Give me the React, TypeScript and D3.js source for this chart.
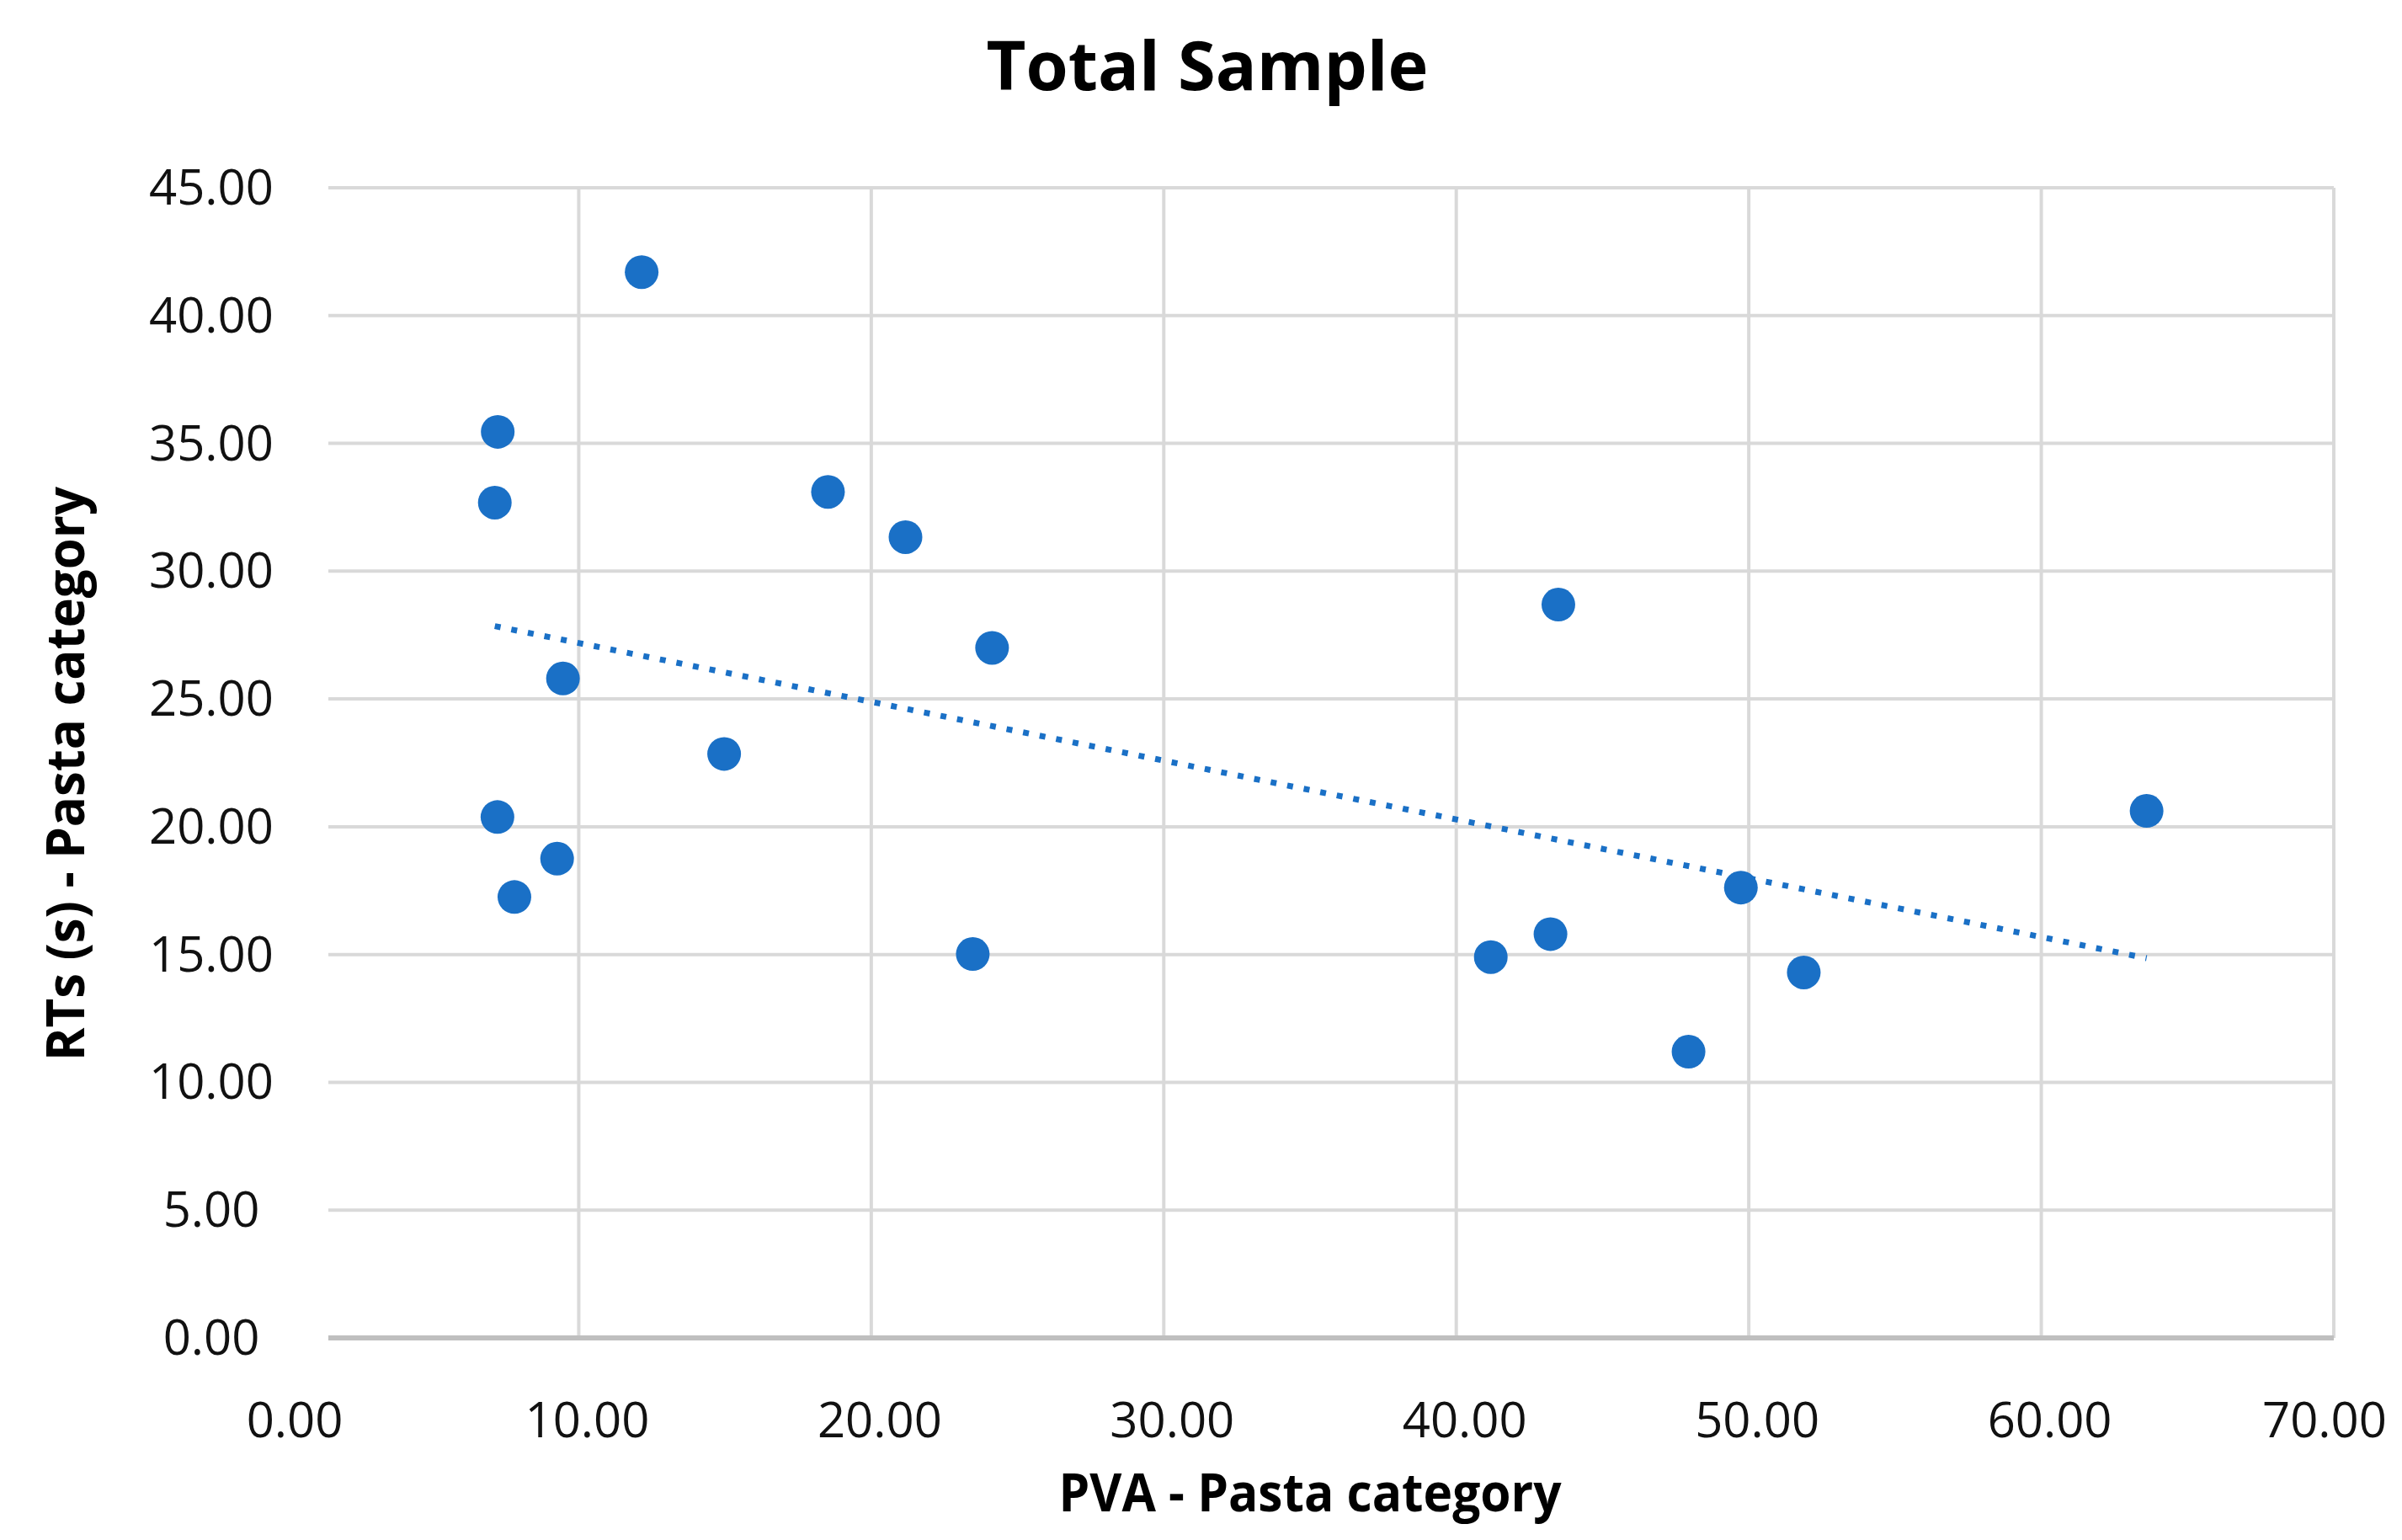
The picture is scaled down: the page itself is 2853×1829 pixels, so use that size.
import * as d3 from "d3";

const pva = [12.15, 7.23, 7.13, 18.52, 21.17, 24.13, 9.46, 14.97, 7.22, 9.26, 7.8, 23.47, 43.49, 41.18, 43.22, 49.73, 51.88, 47.94, 63.6];
const rts = [41.7, 35.45, 32.68, 33.1, 31.33, 27.0, 25.8, 22.85, 20.38, 18.75, 17.25, 15.02, 28.69, 14.9, 15.8, 17.62, 14.3, 11.2, 20.62];
const xTicks = [0, 10, 20, 30, 40, 50, 60, 70];
const yTicks = [0, 5, 10, 15, 20, 25, 30, 35, 40, 45];

const chartTitle = "Total Sample";
const xTitle = "PVA - Pasta category";
const yTitle = "RTs (s) - Pasta category";

export default function App() {
  const width = 2853;
  const height = 1829;
  // plot area (the left edge is cut a bit past the x = 0 position, like the original)
  const plotLeft = 390;
  const plotRight = 2772;
  const plotTop = 223;
  const plotBottom = 1589;
  const blue = "#1a70c6";
  const grid = "#d9d9d9";
  const font = "'Open Sans', 'Noto Sans', sans-serif";

  const x = d3.scaleLinear().domain([0, 70]).range([340, plotRight]);
  const y = d3.scaleLinear().domain([0, 45]).range([plotBottom, plotTop]);

  const points = pva.map((v, i) => ({ x: v, y: rts[i] }));

  // least-squares trend line over the range of the data
  const mx = d3.mean(pva) as number;
  const my = d3.mean(rts) as number;
  const slope =
    d3.sum(points, (p) => (p.x - mx) * (p.y - my)) /
    d3.sum(points, (p) => (p.x - mx) ** 2);
  const intercept = my - slope * mx;
  const [x0, x1] = d3.extent(pva) as [number, number];
  const trend = d3.line<number>()
    .x((d) => x(d))
    .y((d) => y(intercept + slope * d))([x0, x1]) || "";

  return (
    <svg
      width={width}
      height={height}
      style={{ position: "absolute", left: 0, top: 0, background: "#fff" }}
      fontFamily={font}
    >
      <rect width={width} height={height} fill="#fff" />
      <text
        x={1434}
        y={107}
        textAnchor="middle"
        fontSize={81}
        fontWeight="bold"
        textLength={525}
        lengthAdjust="spacingAndGlyphs"
      >
        {chartTitle}
      </text>

      {/* horizontal grid */}
      {yTicks.filter((t) => t > 0).map((t) => (
        <line key={`h${t}`} x1={plotLeft} x2={plotRight} y1={y(t)} y2={y(t)} stroke={grid} strokeWidth={4} />
      ))}
      {/* vertical grid */}
      {xTicks.filter((t) => t > 0).map((t) => (
        <line key={`v${t}`} x1={x(t)} x2={x(t)} y1={plotTop} y2={plotBottom} stroke={grid} strokeWidth={4} />
      ))}
      {/* x axis line */}
      <line x1={plotLeft} x2={plotRight} y1={plotBottom} y2={plotBottom} stroke="#bfbfbf" strokeWidth={6} />

      {/* tick labels */}
      {yTicks.map((t) => (
        <text key={`yl${t}`} x={251} y={y(t) + 20} textAnchor="middle" fontSize={58} fill="#111">
          {t.toFixed(2)}
        </text>
      ))}
      {xTicks.map((t) => (
        <text
          key={`xl${t}`}
          x={Math.min(x(t) + 10, width - 92)}
          y={1707}
          textAnchor="middle"
          fontSize={58}
          fill="#111"
        >
          {t.toFixed(2)}
        </text>
      ))}

      {/* trend line */}
      <path d={trend} fill="none" stroke={blue} strokeWidth={7} strokeDasharray="7 13" />

      {/* points */}
      {points.map((p, i) => (
        <circle key={i} cx={x(p.x)} cy={y(p.y)} r={20} fill={blue} />
      ))}

      {/* axis titles */}
      <text
        x={1556}
        y={1795}
        textAnchor="middle"
        fontSize={63}
        fontWeight="bold"
        textLength={597}
        lengthAdjust="spacingAndGlyphs"
      >
        {xTitle}
      </text>
      <text
        transform={`translate(100, 919) rotate(-90)`}
        textAnchor="middle"
        fontSize={63}
        fontWeight="bold"
        textLength={682}
        lengthAdjust="spacingAndGlyphs"
      >
        {yTitle}
      </text>
    </svg>
  );
}
